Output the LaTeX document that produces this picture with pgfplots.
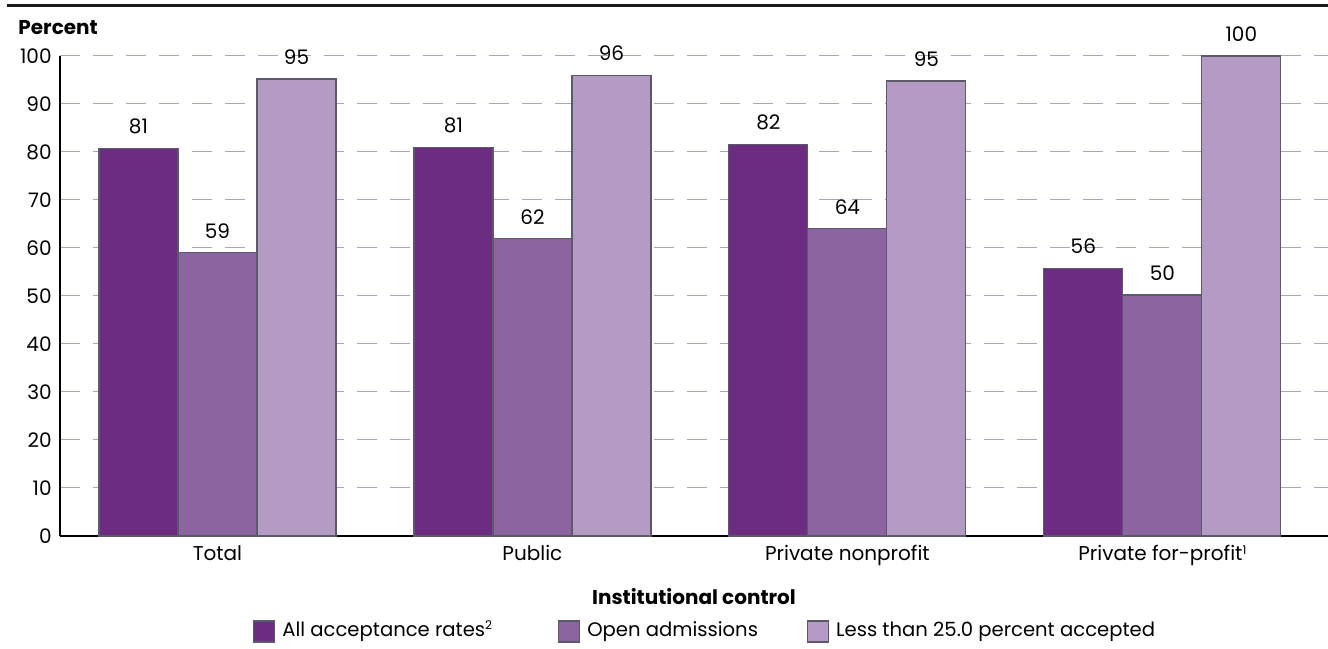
\documentclass[border=0pt]{standalone}
\usepackage{fontspec}
\setmainfont{Poppins}
\usepackage{pgfplots}
\pgfplotsset{compat=1.18}
\definecolor{cA}{HTML}{6B2C82}
\definecolor{cB}{HTML}{8B64A0}
\definecolor{cC}{HTML}{B49BC4}
\definecolor{edge}{HTML}{5B5A6A}
\definecolor{gridgray}{HTML}{A9A5B5}
\newcommand{\supnum}[1]{{\fontsize{6pt}{6pt}\selectfont\raisebox{3.2pt}{#1}}}
\begin{document}
\fontsize{10pt}{12pt}\selectfont
\begin{tikzpicture}
\path[use as bounding box] (0,0) rectangle (664pt,324pt);
\draw[line width=1.5pt,black!90] (3.5pt,321.25pt) -- (664pt,321.25pt);
\node[anchor=base west,inner sep=0pt,font=\bfseries] at (9pt,306.5pt) {Percent};
\node[anchor=base,inner sep=0pt,font=\bfseries] at (347pt,21.5pt) {Institutional control};
\begin{axis}[
  at={(30pt,56pt)}, anchor=south west,
  width=634pt, height=240pt, scale only axis,
  xmin=-0.5, xmax=3.526, ymin=0, ymax=100,
  clip=false,
  axis x line*=bottom, axis y line*=left,
  axis line style={black, line width=0.6pt, -},
  ytick={0,10,...,100},
  xtick={0,1,2,3},
  xticklabels={Total, Public, Private nonprofit, Private for-profit\supnum{1}},
  major tick length=0pt,
  /pgf/number format/assume math mode=true,
  yticklabel style={inner sep=0pt, xshift=-4pt},
  xticklabel style={inner sep=0pt, anchor=north, text height=7.2pt, yshift=-5pt},
  ymajorgrids,
  grid style={dash pattern=on 10pt off 6.5pt, color=gridgray, line width=0.5pt},
  ybar=0pt, bar width=39.5pt,
  nodes near coords={\pgfmathprintnumber[fixed,precision=0]{\pgfplotspointmeta}},
  nodes near coords style={inner sep=0pt, anchor=south, yshift=7pt, text=black},
  legend columns=3,
  legend style={at={(0.508,-0.199)}, anchor=center, draw=none, fill=none,
    font=\fontsize{9.8pt}{11pt}\selectfont,
    /tikz/every even column/.append style={column sep=0pt},
    nodes={inner sep=0pt, anchor=base west}},
  legend image code/.code={\draw[#1] (0pt,-3pt) rectangle (10.5pt,7.5pt);},
  every axis legend/.append style={cells={anchor=west}},
]
\addplot[fill=cA, draw=edge, line width=0.6pt] coordinates {(0,80.8) (1,81.0) (2,81.5) (3,55.8)};
\addplot[fill=cB, draw=edge, line width=0.6pt] coordinates {(0,59.0) (1,61.9) (2,64.0) (3,50.2)};
\addplot[fill=cC, draw=edge, line width=0.6pt] coordinates {(0,95.2) (1,96.0) (2,94.8) (3,100)};
\legend{\hspace{3.5pt}All acceptance rates\supnum{2}\rule{33pt}{0pt}, \hspace{3.5pt}Open admissions\rule{24.5pt}{0pt}, \hspace{3.5pt}Less than 25.0 percent accepted}
\end{axis}
\end{tikzpicture}
\end{document}
